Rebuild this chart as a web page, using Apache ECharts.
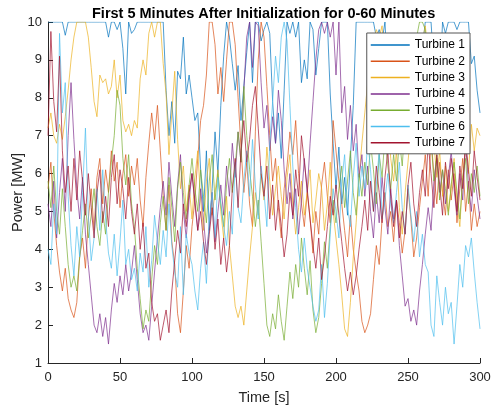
<!DOCTYPE html>
<html>
<head>
<meta charset="utf-8">
<script src="https://cdn.jsdelivr.net/npm/echarts@6/dist/echarts.min.js"></script>
<style>
  html, body { margin: 0; padding: 0; background: #fff; }
  #chart { width: 492px; height: 410px; }
</style>
</head>
<body>
<div id="chart"></div>
<script>
// Power output of seven turbines, sampled every 2 s over the first 300 s.
const timeStepSeconds = 2;

const seriesNames = ['Turbine 1', 'Turbine 2', 'Turbine 3', 'Turbine 4', 'Turbine 5', 'Turbine 6', 'Turbine 7'];

const turbine1 = [
  10,10,10,10,10,10,9.65,10,10,10,
  10,10,10,10,10,10,10,10,10,10,
  10,9.6,10,10,9.8,10,9.3,8.1,10,9.7,
  9.8,10,10,10,10,10,10,10,10,10,
  10,8.2,7.0,7.9,6.8,8.7,8.5,9.6,8.1,8.6,
  8.0,7.4,7.6,6.1,5.0,6.6,4.5,5.6,7.1,6.0,
  7.8,9.1,10,9.6,8.9,8.2,8.85,7.4,8.3,9.2,
  10,8.4,10,10,9.5,9.8,10,9.7,7.9,6.8,
  7.6,6.4,8.2,10,9.7,10,9.6,10,8.4,9.0,
  8.5,10,9.8,8.6,9.3,10,10,10,8.1,6.8,
  5.6,6.7,5.2,5.9,4.9,6.4,7.8,10,10,10,
  10,10,10,10,9.6,9.8,9.5,10,8.5,7.2,
  6.6,7.5,8.9,7.1,9.4,8.2,9.2,8.2,7.4,8.9,
  9.3,10,10,10,8.8,9.1,8.3,10,9.7,10,
  10,10,9.8,10,10,10,10,8.9,9.1,8.2,
  7.6
];

const turbine2 = [
  5.6,6.3,5.0,4.1,3.4,2.9,3.5,2.7,2.4,2.2,
  2.6,3.8,4.3,3.5,4.8,5.6,4.5,5.9,6.4,5.2,
  6.1,5.5,6.6,5.8,6.3,5.1,6.0,6.5,5.4,6.2,
  5.7,6.4,5.3,4.6,5.9,6.8,7.6,6.9,7.8,6.6,
  5.4,4.5,5.7,4.2,3.6,2.3,1.8,2.9,4.1,3.5,
  4.6,5.3,6.4,7.4,7.8,8.6,10,10,9.4,8.1,
  8.8,7.9,9.0,10,10,9.4,8.0,6.7,5.5,6.3,
  5.2,4.6,7.1,9.0,10,9.6,8.3,7.0,5.8,6.4,
  5.1,4.3,5.6,6.2,7.1,6.5,7.4,6.0,5.2,4.6,
  5.5,4.8,3.9,5.0,4.4,5.7,6.3,5.4,4.7,7.4,
  6.6,5.8,5.2,4.5,3.8,4.9,4.0,3.4,2.9,2.1,
  1.8,2.0,2.3,3.2,4.1,3.6,4.8,5.5,4.6,5.0,
  4.2,5.3,4.7,3.9,4.5,5.6,4.8,3.8,4.3,5.1,
  5.8,6.5,5.4,6.9,6.0,5.2,6.3,5.5,4.9,6.1,
  5.3,6.0,4.7,5.6,6.4,5.0,5.8,4.5,5.2,4.6,
  5.0
];

const turbine3 = [
  7.2,7.6,7.0,6.8,7.3,6.9,7.5,8.2,9.0,9.6,
  10,10,10,10,9.6,8.8,7.9,7.5,8.6,8.4,
  8.5,8.1,8.3,9.0,8.0,8.6,7.4,7.1,7.3,7.0,
  7.4,7.2,8.5,9.0,8.6,9.7,10,9.6,10,10,
  8.9,8.1,6.5,7.6,8.7,6.9,5.6,6.2,5.0,5.7,
  4.8,5.9,6.6,5.3,4.5,5.8,6.4,4.9,5.5,6.1,
  5.0,4.3,5.4,4.1,3.3,2.5,2.2,2.5,2.0,2.9,
  3.8,4.6,5.5,4.9,6.0,5.3,6.7,5.8,4.9,5.6,
  6.2,5.4,4.8,5.9,6.5,5.2,4.4,5.1,5.8,4.9,
  5.5,6.1,4.7,5.3,6.0,5.6,4.5,5.2,6.3,5.0,
  4.3,3.6,2.8,1.9,1.7,2.6,3.8,4.7,5.9,6.8,
  7.6,8.4,9.1,9.5,9.8,9.6,9.9,8.7,7.5,6.4,
  5.8,6.6,5.1,4.4,5.5,6.3,7.2,8.4,9.3,8.6,
  9.5,9.9,9.2,8.0,6.8,5.9,6.6,5.4,6.2,5.0,
  5.6,6.4,5.2,4.6,5.9,6.7,6.0,7.3,6.6,7.2,
  7.0
];

const turbine4 = [
  5.2,4.6,5.8,4.3,5.5,6.4,5.0,7.0,8.4,6.9,
  5.6,4.8,5.9,4.4,3.6,2.8,2.0,1.8,2.3,1.7,
  2.2,1.5,2.4,3.1,2.6,3.3,2.8,3.6,2.9,3.4,
  4.1,3.2,2.3,1.8,2.0,1.6,2.5,3.4,4.3,5.1,
  5.8,4.9,6.3,5.4,4.6,5.7,6.5,5.0,4.3,5.3,
  6.0,5.2,4.5,5.6,4.8,3.9,4.6,5.5,4.2,5.0,
  5.7,4.9,6.2,5.4,6.8,5.9,7.1,6.3,8.2,9.6,
  10,8.8,10,9.9,8.4,7.2,7.8,6.6,7.5,6.8,
  8.2,7.4,6.1,5.2,6.0,4.8,5.6,4.4,5.3,6.4,
  5.5,6.8,7.9,9.0,9.8,10,9.7,10,9.6,10,
  8.6,10,7.6,8.3,6.9,7.8,6.6,7.3,5.9,6.5,
  5.4,6.2,5.0,4.3,5.5,4.7,5.9,5.1,4.4,5.6,
  4.8,5.3,4.1,3.3,2.5,2.7,2.1,2.4,2.0,2.9,
  3.6,4.4,5.1,4.5,5.8,6.4,5.5,6.1,5.2,5.9,
  6.6,5.6,4.9,6.0,5.3,6.8,5.7,5.0,6.1,5.4,
  4.8
];

const turbine5 = [
  5.8,5.1,6.2,5.0,4.4,5.6,4.6,3.6,3.0,3.3,
  2.9,3.8,4.5,5.2,4.3,4.9,5.6,4.6,4.1,5.0,
  4.4,5.5,6.3,7.0,8.2,7.8,6.4,5.7,6.5,5.2,
  4.6,3.5,2.7,1.9,2.4,2.1,3.2,4.1,3.6,4.7,
  5.4,4.5,5.9,5.1,4.2,5.6,6.3,5.5,4.8,5.7,
  6.4,5.6,5.0,6.1,5.4,4.7,5.8,6.5,5.3,6.0,
  5.2,4.6,5.7,6.4,5.5,6.2,7.1,6.3,8.3,7.0,
  6.1,5.4,4.6,5.3,4.2,3.1,2.0,1.7,2.3,1.9,
  2.8,2.1,1.6,2.5,3.4,2.7,3.6,3.0,4.3,3.5,
  2.8,3.7,2.4,1.8,2.2,3.1,4.2,3.5,4.6,5.3,
  4.7,5.6,6.2,5.1,5.8,6.6,5.5,4.9,6.0,5.4,
  6.3,5.7,6.8,6.1,5.2,6.5,5.9,7.0,6.2,5.6,
  6.5,5.8,6.9,6.2,7.4,6.6,7.8,8.7,9.6,10,
  10,9.8,8.2,6.9,5.8,6.5,5.3,6.1,5.6,4.9,
  5.7,6.3,5.5,4.8,5.9,6.4,5.2,6.0,5.5,6.2,
  5.4
];

const turbine6 = [
  4.0,3.6,5.2,4.4,9.7,7.6,8.4,5.4,4.1,3.3,
  4.6,3.8,5.5,7.2,4.9,3.7,4.3,5.6,4.5,6.1,
  4.8,3.9,3.5,4.4,3.3,4.2,5.3,3.6,4.0,3.2,
  3.5,2.9,3.9,3.4,4.6,3.0,3.7,4.9,4.2,3.6,
  4.5,3.8,5.2,4.1,3.4,3.0,4.6,2.8,4.4,3.9,
  3.6,2.9,2.4,3.5,4.2,3.1,4.7,5.5,4.3,5.9,
  5.2,4.6,4.1,5.0,4.4,6.3,5.1,4.7,5.8,6.6,
  5.4,6.9,5.7,4.8,6.2,5.5,4.6,6.8,7.9,9.1,
  8.4,9.6,10,9.5,7.8,6.2,5.1,4.0,3.4,4.3,
  3.5,3.0,2.5,2.1,2.4,3.6,2.2,3.1,4.4,5.6,
  5.0,4.3,5.8,6.5,5.1,4.6,5.9,6.8,5.4,6.2,
  5.6,6.9,6.1,5.0,5.7,6.6,4.8,5.3,6.0,5.2,
  4.7,5.5,6.3,5.1,4.4,5.7,4.9,4.2,5.0,3.8,
  4.4,3.6,3.4,2.0,1.7,3.3,2.6,2.0,3.0,2.3,
  2.6,1.5,2.5,3.6,3.0,4.1,3.8,4.3,3.4,2.6,
  1.9
];

const turbine7 = [
  7.0,9.75,7.9,7.1,9.1,6.6,5.5,6.2,5.0,6.4,
  5.3,6.6,5.8,4.9,6.0,5.1,4.3,5.5,6.1,4.7,
  5.4,4.6,5.9,6.5,5.2,6.1,5.6,4.8,5.9,5.0,
  4.4,5.2,4.0,4.7,3.5,3.9,2.6,2.1,2.3,1.6,
  2.0,2.4,1.8,2.9,3.7,4.5,3.9,5.2,4.6,5.5,
  6.0,5.3,4.5,5.0,4.2,3.6,4.4,5.1,4.0,4.8,
  3.6,4.3,3.4,4.1,5.6,6.4,5.1,6.6,7.4,6.3,
  6.9,7.8,8.3,7.2,6.0,5.4,6.2,4.8,5.7,4.5,
  5.3,4.6,3.8,4.4,5.5,4.9,6.1,5.4,7.0,6.3,
  5.6,4.8,4.1,3.5,4.3,3.2,3.8,4.6,5.4,4.9,
  5.7,4.9,4.2,3.5,2.9,3.4,2.8,3.3,4.0,4.6,
  5.3,4.5,5.8,5.0,6.2,5.5,4.7,5.9,6.6,5.4,
  4.6,5.3,4.3,5.0,4.4,5.7,6.3,5.2,4.6,5.5,
  6.1,5.4,6.8,6.0,5.1,6.5,5.7,4.9,6.3,5.6,
  6.4,5.8,5.0,6.2,5.6,6.9,6.1,5.4,6.6,5.9,
  5.3
];

const turbineValues = [turbine1, turbine2, turbine3, turbine4, turbine5, turbine6, turbine7];

// MATLAB default line colour order
const lineColors = ['#0072BD', '#D95319', '#EDB120', '#7E2F8E', '#77AC30', '#4DBEEE', '#A2142F'];

const xTicks = { min: 0, max: 300, interval: 50 };
const yTicks = { min: 1, max: 10, interval: 1 };

const titleText = 'First 5 Minutes After Initialization for 0-60 Minutes';
const xLabel = 'Time [s]';
const yLabel = 'Power [MW]';

const fontFamily = '"Liberation Sans", Arial, Helvetica, sans-serif';
const axisColor = '#262626';

const series = turbineValues.map((vals, k) => ({
  name: seriesNames[k],
  type: 'line',
  data: vals.map((v, i) => [i * timeStepSeconds, v]),
  symbol: 'none',
  showSymbol: false,
  smooth: false,
  sampling: null,
  clip: true,
  lineStyle: { color: lineColors[k], width: 0.7 },
  itemStyle: { color: lineColors[k] },
  emphasis: { disabled: true }
}));

const axisCommon = {
  type: 'value',
  axisLine: { show: true, onZero: false, lineStyle: { color: axisColor, width: 1 } },
  axisTick: { show: true, inside: true, length: 5, lineStyle: { color: axisColor, width: 1 } },
  splitLine: { show: false },
  axisLabel: { fontSize: 13, color: axisColor, fontFamily },
  nameLocation: 'middle',
  nameMoveOverlap: false,
  nameTextStyle: { fontSize: 14.5, color: axisColor, fontFamily }
};

const chart = echarts.init(document.getElementById('chart'), null, { renderer: 'canvas' });
chart.setOption({
  animation: false,
  backgroundColor: '#fff',
  title: {
    text: titleText,
    left: 87,
    top: 1,
    padding: 5,
    textStyle: { fontSize: 14.5, fontWeight: 'bold', color: '#000', fontFamily }
  },
  grid: { left: 48, right: 12, top: 22, bottom: 47, containLabel: false, outerBoundsMode: 'none' },
  xAxis: Object.assign({}, axisCommon, {
    min: xTicks.min, max: xTicks.max, interval: xTicks.interval,
    name: xLabel, nameGap: 27,
    axisLabel: Object.assign({}, axisCommon.axisLabel, { margin: 8 })
  }),
  yAxis: Object.assign({}, axisCommon, {
    min: yTicks.min, max: yTicks.max, interval: yTicks.interval,
    name: yLabel, nameGap: 23,
    axisLabel: Object.assign({}, axisCommon.axisLabel, { margin: 6 })
  }),
  legend: {
    data: seriesNames,
    orient: 'vertical',
    right: 22,
    top: 33,
    padding: [6, 5, 5, 4],
    icon: 'rect',
    itemWidth: 39,
    itemHeight: 1.5,
    itemGap: 4.3,
    backgroundColor: '#fff',
    borderColor: '#555',
    borderWidth: 1,
    borderRadius: 0,
    textStyle: { fontSize: 12, lineHeight: 12, color: '#000', fontFamily },
    selectedMode: false
  },
  series
});
</script>
</body>
</html>
